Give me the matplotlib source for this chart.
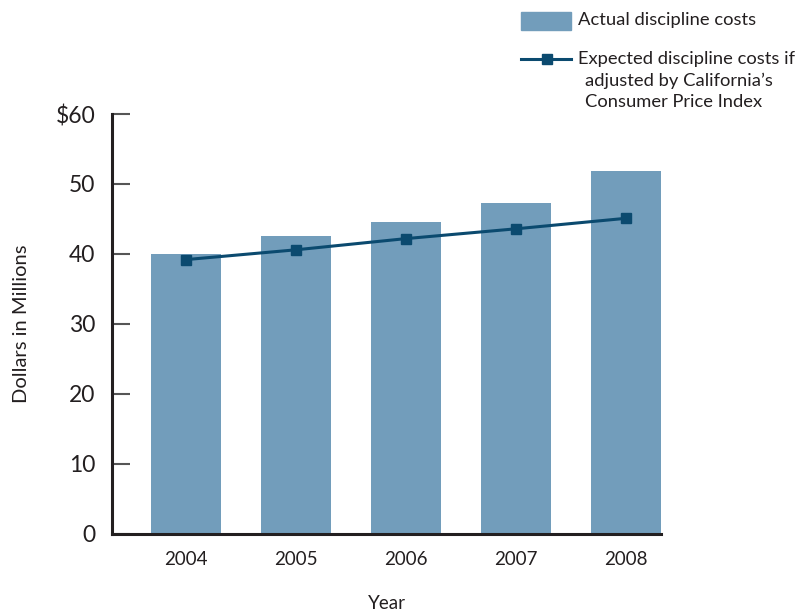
import matplotlib
matplotlib.use("Agg")
import matplotlib.pyplot as plt
from matplotlib.patches import Rectangle
from matplotlib.lines import Line2D

years = ["2004", "2005", "2006", "2007", "2008"]
actual_costs = [40.0, 42.6, 44.6, 47.3, 51.9]
cpi_adjusted_costs = [39.2, 40.6, 42.2, 43.6, 45.1]
y_ticks = [0, 10, 20, 30, 40, 50, 60]
y_tick_labels = ["0", "10", "20", "30", "40", "50", "$60"]

BAR_COLOR = "#729dbb"
LINE_COLOR = "#0b4a6f"
TEXT_COLOR = "#231f20"

plt.rcParams["font.family"] = ["Lato", "DejaVu Sans"]

fig = plt.figure(figsize=(8.04, 6.12), dpi=100)
ax = fig.add_axes([112 / 804, 1 - 534 / 612, (661 - 112) / 804, (534 - 114) / 612])

x = list(range(len(years)))
ax.bar(x, actual_costs, width=0.636, color=BAR_COLOR, zorder=2)
ax.plot(x, cpi_adjusted_costs, color=LINE_COLOR, lw=2.2, marker="s",
        markersize=7.5, zorder=3)

ax.set_xlim(-0.673, 4.318)
ax.set_ylim(0, 60)
ax.set_xticks(x)
ax.set_xticklabels(years, fontsize=13.5, color=TEXT_COLOR)
ax.tick_params(axis="x", length=0, pad=12)
ax.set_yticks(y_ticks)
ax.set_yticklabels(y_tick_labels, fontsize=16.5, color=TEXT_COLOR)
ax.tick_params(axis="y", direction="in", length=13, width=1.5, color="#555555", pad=12)

for side in ("top", "right"):
    ax.spines[side].set_visible(False)
for side in ("left", "bottom"):
    ax.spines[side].set_linewidth(2.2)
    ax.spines[side].set_color("#231f20")

ax.set_xlabel("Year", fontsize=13.5, color=TEXT_COLOR, labelpad=20)
ax.set_ylabel("Dollars in Millions", fontsize=14.5, color=TEXT_COLOR)
ax.yaxis.set_label_coords(-82 / 549, 0.5)

# Legend drawn in figure pixel coordinates
def fx(px):
    return px / 804

def fy(py):
    return 1 - py / 612

LEGEND_FS = 13.2
fig.add_artist(Rectangle((fx(521), fy(30)), fx(571) - fx(521), fy(12) - fy(30),
                         transform=fig.transFigure, color=BAR_COLOR))
fig.text(fx(578), fy(20), "Actual discipline costs", fontsize=LEGEND_FS,
         color=TEXT_COLOR, va="center", ha="left")
fig.add_artist(Line2D([fx(521), fx(571)], [fy(59), fy(59)], transform=fig.transFigure,
                      color=LINE_COLOR, lw=2.2))
fig.add_artist(Line2D([fx(547)], [fy(59)], transform=fig.transFigure,
                      color=LINE_COLOR, marker="s", markersize=7.5, lw=0))
fig.text(fx(578), fy(59), "Expected discipline costs if", fontsize=LEGEND_FS,
         color=TEXT_COLOR, va="center", ha="left")
fig.text(fx(585), fy(81), "adjusted by California\u2019s", fontsize=LEGEND_FS,
         color=TEXT_COLOR, va="center", ha="left")
fig.text(fx(585), fy(102), "Consumer Price Index", fontsize=LEGEND_FS,
         color=TEXT_COLOR, va="center", ha="left")

fig.savefig("out.png", dpi=100)
